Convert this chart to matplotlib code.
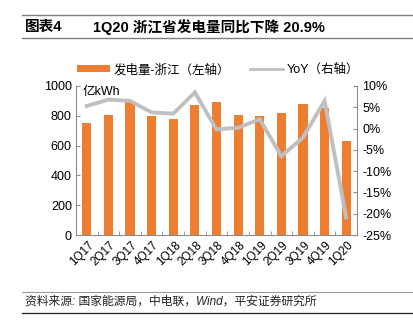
import matplotlib
matplotlib.use("Agg")
import matplotlib.pyplot as plt
from matplotlib.lines import Line2D
from matplotlib.patches import Patch
import numpy as np

plt.rcParams['font.family'] = ['Liberation Sans', 'Noto Sans CJK SC', 'DejaVu Sans']

quarters = ["1Q17", "2Q17", "3Q17", "4Q17", "1Q18", "2Q18", "3Q18", "4Q18",
            "1Q19", "2Q19", "3Q19", "4Q19", "1Q20"]
generation = [755, 805, 897, 801, 778, 872, 895, 805, 797, 817, 879, 855, 629]
yoy = [5.3, 6.8, 6.5, 3.8, 3.5, 8.5, -0.2, 0.2, 2.2, -6.5, -2.1, 6.5, -20.9]

left_ticks = [0, 200, 400, 600, 800, 1000]
right_ticks = [10, 5, 0, -5, -10, -15, -20, -25]

ORANGE = "#ED7D31"
GRAY = "#BFBFBF"
AXIS = "#8C8C8C"

fig = plt.figure(figsize=(4.14, 3.27), dpi=100)
ax = fig.add_axes([76/414, 1-235/327, (357-76)/414, (235-86)/327])
x = np.arange(len(quarters))

ax.bar(x, generation, width=0.42, color=ORANGE, zorder=2)
ax.set_ylim(0, 1000)
ax.set_xlim(-0.5, len(quarters) - 0.5)
ax.set_yticks(left_ticks)
ax.set_yticklabels([str(v) for v in left_ticks], fontsize=9)
ax.set_xticks(x + 0.25)
ax.set_xticklabels(quarters, rotation=45, ha='right', va='center',
                   rotation_mode='anchor', fontsize=8.5)
ax.tick_params(axis='x', length=0, pad=6)
ax.set_xticks(np.arange(-0.5, len(quarters)), minor=True)
ax.tick_params(axis='x', which='minor', direction='in', length=3, color=AXIS)
ax.tick_params(axis='y', direction='in', length=3, color=AXIS, pad=3)
for s in ['top', 'right']:
    ax.spines[s].set_visible(False)
for s in ['left', 'bottom']:
    ax.spines[s].set_color(AXIS)
    ax.spines[s].set_linewidth(0.8)

ax2 = ax.twinx()
ax2.plot(x, yoy, color=GRAY, linewidth=2.8, zorder=3, solid_joinstyle='miter')
ax2.set_ylim(-25, 10)
ax2.set_yticks(right_ticks)
ax2.set_yticklabels([f"{v}%" for v in right_ticks], fontsize=9)
ax2.tick_params(axis='y', direction='in', length=3, color=AXIS, pad=4)
for s in ['top', 'left', 'bottom']:
    ax2.spines[s].set_visible(False)
ax2.spines['right'].set_color(AXIS)
ax2.spines['right'].set_linewidth(0.8)

ax.text(7/281, 1-6/149, "亿kWh", transform=ax.transAxes, fontsize=9,
        ha='left', va='center')

handles = [Patch(facecolor=ORANGE, edgecolor='none'),
           Line2D([0], [0], color=GRAY, linewidth=2.0)]
labels = ["发电量-浙江（左轴）", "YoY（右轴）"]
fig.legend(handles, labels, loc='center', bbox_to_anchor=(218/414, 1-70/327),
           ncol=2, frameon=False, fontsize=9, handlelength=2.6,
           handleheight=0.45, columnspacing=1.6, handletextpad=0.3,
           borderpad=0.0)

# header and footer rules
fig.add_artist(Line2D([22/414, 412/414], [1-15/327]*2, color="#7F7F7F", linewidth=1.0))
fig.add_artist(Line2D([22/414, 412/414], [1-38/327]*2, color="#7F7F7F", linewidth=1.0))
fig.add_artist(Line2D([22/414, 412/414], [1-292/327]*2, color="#9A9A9A", linewidth=0.8))
fig.add_artist(Line2D([22/414, 412/414], [1-313/327]*2, color="#222222", linewidth=0.9))

fig.text(25/414, 1-27/327, "图表4", fontsize=10.5, fontweight='bold', va='center', ha='left')
fig.text(93/414, 1-27/327, "1Q20 浙江省发电量同比下降 20.9%", fontsize=10.5,
         fontweight='bold', va='center', ha='left')
fig.text(25/414, 1-302/327, "资料来源: 国家能源局，中电联，Wind，平安证券研究所",
         fontsize=8.5, style='italic', va='center', ha='left', color="#222222")

fig.savefig("out.png", dpi=100)
